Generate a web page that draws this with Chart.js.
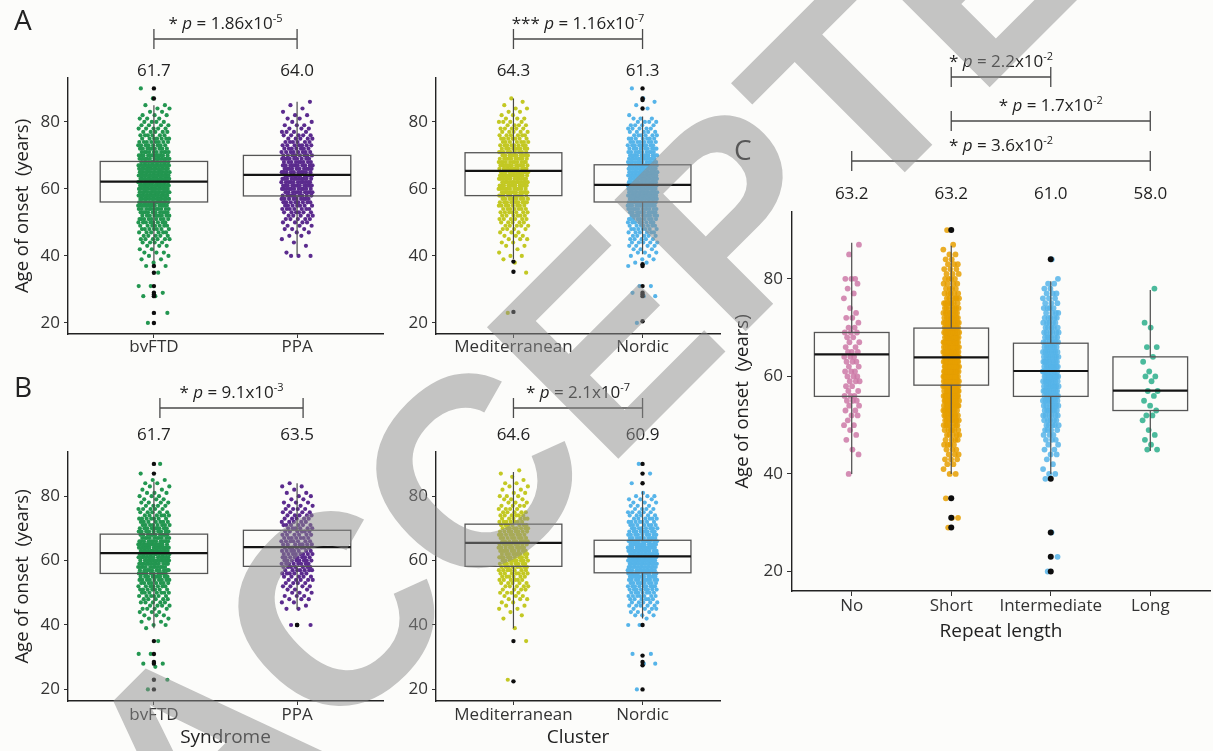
<!DOCTYPE html>
<html>
<head>
<meta charset="utf-8">
<script src="https://cdn.jsdelivr.net/npm/chart.js@4.4.1/dist/chart.umd.min.js"></script>
<style>
  html, body { margin: 0; padding: 0; background: #fcfcfa; }
  #wrap { position: relative; width: 1213px; height: 751px; overflow: hidden; background: #fcfcfa; }
  #wrap canvas { position: absolute; left: 0; top: 0; }
  #wm { pointer-events: none; }
</style>
</head>
<body>
<div id="wrap">
  <canvas id="cA1" width="1213" height="751"></canvas>
  <canvas id="cA2" width="1213" height="751"></canvas>
  <canvas id="cB1" width="1213" height="751"></canvas>
  <canvas id="cB2" width="1213" height="751"></canvas>
  <canvas id="cC" width="1213" height="751"></canvas>
  <canvas id="wm" width="1213" height="751"></canvas>
</div>
<script>
// ------------------------------------------------------------------
// DATA  (counts of patients per year of age at onset, ages 20..90)
// ------------------------------------------------------------------
const AGE_START = 20;
const yTicksAB = [20, 40, 60, 80];
const yTicksC = [20, 40, 60, 80];

// ---------- Panel A (left): Syndrome ----------
const syndromeCats = ['bvFTD', 'PPA'];
const A_bvFTD_counts = [
  1,0,0,1,0,0,0,0,2,1,
  0,2,0,0,0,1,0,2,1,2,
  2,3,2,3,4,6,5,6,7,7,
  8,9,9,10,11,12,13,14,14,15,
  16,15,17,15,16,15,14,14,12,12,
  11,10,9,8,8,7,6,5,5,4,
  4,3,3,2,2,2,0,1,0,0,
  1];
const A_PPA_counts = [
  0,0,0,0,0,0,0,0,0,0,
  0,0,0,0,0,0,0,0,0,0,
  3,1,0,1,1,1,2,2,3,3,
  4,5,5,6,7,7,8,9,9,10,
  11,11,11,11,11,10,10,10,9,9,
  8,8,7,7,6,5,5,4,3,3,
  2,2,2,1,1,1,1,0,0,0,
  0];
const A_syn_q1 = [56.1, 57.9];
const A_syn_median = [62.2, 64.2];
const A_syn_q3 = [68.2, 70.0];
const A_syn_whiskerLow = [38.5, 40.3];
const A_syn_whiskerHigh = [85.0, 86.0];
const A_syn_outliers = [[20, 23, 28, 28.5, 29, 31, 35, 37, 87, 90], []];
const A_syn_means = ['61.7', '64.0'];
const A_syn_p = ['*', '1.86', '-5'];

// ---------- Panel A (right): Cluster ----------
const clusterCats = ['Mediterranean', 'Nordic'];
const A_Med_counts = [
  0,0,0,1,0,0,0,0,0,0,
  0,0,0,0,0,1,0,0,1,1,
  2,1,1,2,2,3,3,3,4,5,
  5,6,6,7,7,8,9,9,10,11,
  11,11,12,12,12,12,11,11,11,10,
  10,9,9,8,7,7,6,5,5,4,
  4,3,2,2,2,1,1,1,0,0,
  0];
const A_Nordic_counts = [
  1,0,0,0,0,0,0,0,2,1,
  0,2,0,0,0,0,0,1,2,2,
  2,3,3,4,5,5,5,6,7,7,
  8,9,10,10,11,12,13,14,14,15,
  16,16,15,15,14,14,14,13,12,12,
  11,10,9,9,8,7,6,5,5,4,
  4,3,1,0,1,1,1,1,0,0,
  1];
const A_clu_q1 = [58.0, 56.1];
const A_clu_median = [65.4, 61.2];
const A_clu_q3 = [70.8, 67.2];
const A_clu_whiskerLow = [39.0, 40.5];
const A_clu_whiskerHigh = [87.0, 81.6];
const A_clu_outliers = [[23.3, 35.3, 38.3], [20.5, 28, 28.5, 29, 31, 37, 37.5, 84, 86.5, 87, 90]];
const A_clu_means = ['64.3', '61.3'];
const A_clu_p = ['***', '1.16', '-7'];

// ---------- Panel B (left): Syndrome ----------
const B_bvFTD_counts = [
  1,0,0,1,0,0,0,1,2,0,
  0,2,0,0,0,1,0,0,0,1,
  2,2,2,3,3,4,4,5,5,6,
  7,7,7,8,9,9,10,10,11,12,
  12,12,13,12,12,12,11,10,10,9,
  9,8,7,7,6,5,5,4,4,3,
  3,3,2,2,2,2,0,1,0,0,
  1];
const B_PPA_counts = [
  0,0,0,0,0,0,0,0,0,0,
  0,0,0,0,0,0,0,0,0,0,
  2,0,0,0,0,2,1,2,3,3,
  3,3,4,4,5,5,6,7,7,8,
  8,8,8,7,7,7,7,7,6,6,
  6,6,5,5,5,4,4,3,3,2,
  2,2,1,2,1,0,0,0,0,0,
  0];
const B_syn_q1 = [56.0, 58.2];
const B_syn_median = [62.3, 64.2];
const B_syn_q3 = [68.2, 69.4];
const B_syn_whiskerLow = [39.0, 45.0];
const B_syn_whiskerHigh = [84.5, 84.0];
const B_syn_outliers = [[20, 23, 28, 28.5, 31, 35, 87, 90], [40, 40]];
const B_syn_means = ['61.7', '63.5'];
const B_syn_p = ['*', '9.1', '-3'];

// ---------- Panel B (right): Cluster ----------
const B_Med_counts = [
  0,0,0,1,0,0,0,0,0,0,
  0,0,0,0,0,1,0,0,0,1,
  0,0,1,1,1,2,2,2,3,3,
  4,4,5,5,6,6,7,7,8,8,
  9,9,9,9,9,9,9,8,8,8,
  8,7,7,6,6,5,4,4,3,3,
  3,2,2,2,2,1,1,1,1,0,
  0];
const B_Nordic_counts = [
  1,0,0,0,0,0,0,0,2,0,
  0,2,0,0,0,0,0,0,0,0,
  2,0,1,3,3,4,5,5,6,7,
  7,8,9,9,10,11,11,12,13,13,
  13,13,13,12,12,11,11,10,9,9,
  8,7,7,6,5,5,4,3,3,3,
  3,1,0,0,1,0,0,1,0,0,
  1];
const B_clu_q1 = [58.2, 56.2];
const B_clu_median = [65.5, 61.3];
const B_clu_q3 = [71.3, 66.3];
const B_clu_whiskerLow = [39.0, 42.0];
const B_clu_whiskerHigh = [87.5, 81.5];
const B_clu_outliers = [[22.5, 35], [20, 27.5, 28.5, 30.5, 40, 84, 87, 90]];
const B_clu_means = ['64.6', '60.9'];
const B_clu_p = ['*', '2.1', '-7'];

// ---------- Panel C: Repeat length ----------
const repeatCats = ['No', 'Short', 'Intermediate', 'Long'];
const C_No_counts = [
  0,0,0,0,0,0,0,0,0,0,
  0,0,0,0,0,0,0,0,0,0,
  1,0,0,0,1,1,0,1,1,1,
  2,1,2,2,2,3,3,2,2,3,
  3,3,2,3,3,3,2,2,2,3,
  2,1,2,1,1,0,1,1,1,1,
  3,0,0,0,0,1,0,1,0,0,
  0];
const C_Short_counts = [
  0,0,0,0,0,0,0,0,0,1,
  0,2,0,0,0,1,0,0,0,0,
  2,1,2,3,3,3,4,4,5,6,
  7,8,8,9,10,11,11,12,12,13,
  13,13,14,13,13,12,12,12,11,11,
  10,10,9,8,7,7,6,5,4,4,
  4,3,3,3,2,2,1,1,0,0,
  1];
const C_Inter_counts = [
  1,0,0,1,0,0,0,0,1,0,
  0,0,0,0,0,0,0,0,0,1,
  2,1,1,1,2,2,2,3,3,4,
  5,5,6,7,7,8,8,9,9,9,
  10,9,9,9,8,8,7,7,6,6,
  5,5,5,4,4,3,3,3,2,2,
  1,0,0,0,1,0,0,0,0,0,
  0];
const C_Long_counts = [
  0,0,0,0,0,0,0,0,0,0,
  0,0,0,0,0,0,0,0,0,0,
  0,0,0,0,0,2,1,1,1,1,
  0,1,2,1,1,1,1,2,0,1,
  2,1,0,1,1,0,2,0,0,0,
  1,1,0,0,0,0,0,0,1,0,
  0,0,0,0,0,0,0,0,0,0,
  0];
const C_q1 = [55.9, 58.2, 55.9, 53.0];
const C_median = [64.5, 63.9, 61.1, 57.1];
const C_q3 = [69.0, 69.9, 66.8, 64.0];
const C_whiskerLow = [40.0, 40.0, 40.0, 44.7];
const C_whiskerHigh = [87.4, 86.8, 79.5, 77.7];
const C_outliers = [[], [29, 31, 35, 90], [20, 23, 28, 39, 84], []];
const C_means = ['63.2', '63.2', '61.0', '58.0'];
const C_p1 = ['*', '2.2', '-2'];
const C_p2 = ['*', '1.7', '-2'];
const C_p3 = ['*', '3.6', '-2'];

// ------------------------------------------------------------------
// RENDERING
// ------------------------------------------------------------------
Chart.defaults.font.family = '"Open Sans", "DejaVu Sans", sans-serif';
Chart.defaults.color = '#333';

const PHI = 0.6180339887;
function jitterPoints(counts, cat, halfW) {
  const pts = [];
  let n = 0;
  counts.forEach((c, k) => {
    for (let j = 0; j < c; j++) {
      const u = ((n + 0.5) * PHI) % 1;
      pts.push({ x: cat + (2 * u - 1) * halfW, y: AGE_START + k });
      n++;
    }
  });
  return pts;
}

function drawPLabel(ctx, cx, baseline, parts) {
  const segs = [
    { t: parts[0] + ' ', font: '17px "Open Sans"', dy: 0 },
    { t: 'p', font: 'italic 17px "Open Sans"', dy: 0 },
    { t: ' = ' + parts[1] + 'x10', font: '17px "Open Sans"', dy: 0 },
    { t: parts[2], font: '11px "Open Sans"', dy: -7 }
  ];
  let w = 0;
  segs.forEach(s => { ctx.font = s.font; s.w = ctx.measureText(s.t).width; w += s.w; });
  let x = cx - w / 2;
  ctx.textAlign = 'left';
  ctx.textBaseline = 'alphabetic';
  ctx.fillStyle = '#222';
  segs.forEach(s => { ctx.font = s.font; ctx.fillText(s.t, x, baseline + s.dy); x += s.w; });
}

function boxPlugin(cfg) {
  return {
    id: 'boxes',
    afterDatasetsDraw(chart) {
      const { ctx, scales: { x, y } } = chart;
      ctx.save();
      cfg.cats.forEach((c, i) => {
        const cx = x.getPixelForValue(i + 1);
        const half = x.getPixelForValue(i + 1 + 0.375) - cx;
        const pq1 = y.getPixelForValue(cfg.q1[i]);
        const pq3 = y.getPixelForValue(cfg.q3[i]);
        const pm = y.getPixelForValue(cfg.median[i]);
        const plo = y.getPixelForValue(cfg.wLow[i]);
        const phi = y.getPixelForValue(cfg.wHigh[i]);
        ctx.strokeStyle = '#4a4a4a';
        ctx.lineWidth = 1.2;
        ctx.beginPath();
        ctx.moveTo(cx, pq3); ctx.lineTo(cx, phi);
        ctx.moveTo(cx, pq1); ctx.lineTo(cx, plo);
        ctx.stroke();
        ctx.strokeStyle = '#555';
        ctx.lineWidth = 1.3;
        ctx.strokeRect(cx - half, pq3, 2 * half, pq1 - pq3);
        ctx.strokeStyle = '#141414';
        ctx.lineWidth = 2.2;
        ctx.beginPath();
        ctx.moveTo(cx - half, pm); ctx.lineTo(cx + half, pm);
        ctx.stroke();
      });
      ctx.restore();
    }
  };
}

function annotPlugin(cfg) {
  return {
    id: 'annot',
    afterDraw(chart) {
      const { ctx, scales: { x } } = chart;
      ctx.save();
      ctx.font = '17px "Open Sans"';
      ctx.fillStyle = '#222';
      ctx.textAlign = 'center';
      ctx.textBaseline = 'alphabetic';
      cfg.means.forEach((m, i) => {
        ctx.fillText(m, x.getPixelForValue(i + 1), cfg.meanY);
      });
      cfg.brackets.forEach(b => {
        const x1 = x.getPixelForValue(b.a + 1) + (b.dx || 0);
        const x2 = x.getPixelForValue(b.b + 1) + (b.dx || 0);
        ctx.strokeStyle = '#4a4a4a';
        ctx.lineWidth = 1.3;
        ctx.beginPath();
        ctx.moveTo(x1, b.y - 10); ctx.lineTo(x1, b.y + 10);
        ctx.moveTo(x1, b.y); ctx.lineTo(x2, b.y);
        ctx.moveTo(x2, b.y - 10); ctx.lineTo(x2, b.y + 10);
        ctx.stroke();
        drawPLabel(ctx, (x1 + x2) / 2, b.y - 10, b.p);
      });
      if (cfg.letter) {
        ctx.font = '28px "Open Sans"';
        ctx.fillStyle = '#222';
        ctx.textAlign = 'left';
        ctx.fillText(cfg.letter.t, cfg.letter.x, cfg.letter.y);
      }
      ctx.restore();
    }
  };
}

function makePanel(cfg) {
  const datasets = cfg.groups.map((counts, ci) => ({
    type: 'scatter',
    data: jitterPoints(counts, ci + 1, cfg.jitter),
    backgroundColor: cfg.colors[ci],
    pointRadius: cfg.r,
    pointBorderWidth: 0,
    pointHoverRadius: 0,
    order: 2
  }));
  datasets.push({
    type: 'scatter',
    data: cfg.outliers.flatMap((arr, ci) => arr.map(v => ({ x: ci + 1, y: v }))),
    backgroundColor: '#0d0d0d',
    pointRadius: cfg.rOut,
    pointBorderWidth: 0,
    pointHoverRadius: 0,
    order: 1
  });
  const tickGrid = { display: true, drawOnChartArea: false, drawTicks: true, tickLength: cfg.tickLen || 4, color: '#333', lineWidth: 1 };
  new Chart(document.getElementById(cfg.id), {
    type: 'scatter',
    data: { datasets },
    options: {
      responsive: false,
      animation: false,
      events: [],
      layout: { padding: cfg.padding },
      plugins: { legend: { display: false }, tooltip: { enabled: false }, title: { display: false } },
      scales: {
        x: {
          type: 'linear',
          min: 0.4,
          max: cfg.cats.length + 0.6,
          afterBuildTicks: s => { s.ticks = cfg.cats.map((c, i) => ({ value: i + 1 })); },
          afterFit: s => { s.height = cfg.xAxisH; },
          ticks: { callback: v => cfg.cats[Math.round(v) - 1], font: { size: 17 }, color: '#333', padding: cfg.xTickPad, autoSkip: false, maxRotation: 0, minRotation: 0 },
          grid: tickGrid,
          border: { display: true, color: '#222', width: 1.4 },
          title: cfg.xTitle ? { display: true, text: cfg.xTitle, font: { size: 19 }, color: '#222', padding: { top: 0, bottom: cfg.xTitlePad } } : { display: false }
        },
        y: {
          type: 'linear',
          min: cfg.yMin,
          max: cfg.yMax,
          afterBuildTicks: s => { s.ticks = cfg.yTicks.map(v => ({ value: v })); },
          afterFit: s => { s.width = cfg.yAxisW; },
          ticks: { font: { size: 17 }, color: '#333', padding: 4 },
          grid: tickGrid,
          border: { display: true, color: '#222', width: 1.4 },
          title: cfg.yTitle ? { display: true, text: cfg.yTitle, font: { size: 18.5 }, color: '#222', padding: { top: cfg.yTitlePad, bottom: 0 } } : { display: false }
        }
      }
    },
    plugins: [boxPlugin(cfg), annotPlugin(cfg)]
  });
}

const colGreen = '#239650', colPurple = '#5b2b8e', colYellow = '#c3c823', colBlue = '#56b4e9';
const yTitleText = 'Age of onset  (years)';

makePanel({
  id: 'cA1', cats: syndromeCats, groups: [A_bvFTD_counts, A_PPA_counts], colors: [colGreen, colPurple],
  q1: A_syn_q1, median: A_syn_median, q3: A_syn_q3, wLow: A_syn_whiskerLow, wHigh: A_syn_whiskerHigh,
  outliers: A_syn_outliers, means: A_syn_means, meanY: 76,
  brackets: [{ a: 0, b: 1, y: 39, p: A_syn_p }],
  letter: { t: 'A', x: 14, y: 30 },
  padding: { left: 0, top: 78, right: 830, bottom: 387 }, xAxisH: 30, yAxisW: 68, xTickPad: -1,
  yMin: 16.7, yMax: 93.1, yTicks: yTicksAB, yTitle: yTitleText, yTitlePad: 11.9,
  jitter: 0.11, r: 2.1, rOut: 2.2
});
makePanel({
  id: 'cA2', cats: clusterCats, groups: [A_Med_counts, A_Nordic_counts], colors: [colYellow, colBlue],
  q1: A_clu_q1, median: A_clu_median, q3: A_clu_q3, wLow: A_clu_whiskerLow, wHigh: A_clu_whiskerHigh,
  outliers: A_clu_outliers, means: A_clu_means, meanY: 76,
  brackets: [{ a: 0, b: 1, y: 39, p: A_clu_p }],
  padding: { left: 390, top: 78, right: 493, bottom: 387 }, xAxisH: 30, yAxisW: 46, xTickPad: -1,
  yMin: 16.7, yMax: 93.1, yTicks: yTicksAB,
  jitter: 0.115, r: 2.1, rOut: 2.2
});
makePanel({
  id: 'cB1', cats: syndromeCats, groups: [B_bvFTD_counts, B_PPA_counts], colors: [colGreen, colPurple],
  q1: B_syn_q1, median: B_syn_median, q3: B_syn_q3, wLow: B_syn_whiskerLow, wHigh: B_syn_whiskerHigh,
  outliers: B_syn_outliers, means: B_syn_means, meanY: 440,
  brackets: [{ a: 0, b: 1, y: 408, p: B_syn_p, dx: 6 }],
  letter: { t: 'B', x: 14, y: 397 },
  padding: { left: 0, top: 452, right: 830, bottom: 0 }, xAxisH: 50, yAxisW: 68, xTickPad: 0,
  xTitle: 'Syndrome', xTitlePad: 1.6,
  yMin: 16.4, yMax: 93.7, yTicks: yTicksAB, yTitle: yTitleText, yTitlePad: 11.9,
  jitter: 0.11, r: 2.1, rOut: 2.2
});
makePanel({
  id: 'cB2', cats: clusterCats, groups: [B_Med_counts, B_Nordic_counts], colors: [colYellow, colBlue],
  q1: B_clu_q1, median: B_clu_median, q3: B_clu_q3, wLow: B_clu_whiskerLow, wHigh: B_clu_whiskerHigh,
  outliers: B_clu_outliers, means: B_clu_means, meanY: 440,
  brackets: [{ a: 0, b: 1, y: 408, p: B_clu_p }],
  padding: { left: 390, top: 452, right: 493, bottom: 0 }, xAxisH: 50, yAxisW: 46, xTickPad: 0,
  xTitle: 'Cluster', xTitlePad: 1.6,
  yMin: 16.4, yMax: 93.7, yTicks: yTicksAB,
  jitter: 0.115, r: 2.1, rOut: 2.2
});
makePanel({
  id: 'cC', cats: repeatCats, groups: [C_No_counts, C_Short_counts, C_Inter_counts, C_Long_counts],
  colors: ['rgba(204,121,167,0.85)', 'rgba(230,159,0,0.85)', 'rgba(86,180,233,0.85)', 'rgba(0,158,115,0.7)'],
  q1: C_q1, median: C_median, q3: C_q3, wLow: C_whiskerLow, wHigh: C_whiskerHigh,
  outliers: C_outliers, means: C_means, meanY: 199,
  brackets: [{ a: 1, b: 2, y: 77, p: C_p1 }, { a: 1, b: 3, y: 121, p: C_p2 }, { a: 0, b: 3, y: 161, p: C_p3 }],
  letter: { t: 'C', x: 734, y: 160 },
  padding: { left: 725, top: 212, right: 1, bottom: 0 }, xAxisH: 160, yAxisW: 67, xTickPad: 0, tickLen: 5,
  xTitle: 'Repeat length', xTitlePad: 107.6,
  yMin: 16.0, yMax: 93.7, yTicks: yTicksC, yTitle: yTitleText, yTitlePad: 6.9,
  jitter: 0.08, r: 2.9, rOut: 3
});

// watermark
(function () {
  const wm = document.getElementById('wm').getContext('2d');
  wm.save();
  wm.translate(717, 360);
  wm.rotate(-Math.PI / 4);
  wm.font = 'bold 270px "Liberation Sans"';
  wm.fillStyle = 'rgba(140,140,140,0.5)';
  wm.textAlign = 'center';
  wm.textBaseline = 'alphabetic';
  wm.fillText('ACCEPTED', 0, 0);
  wm.restore();
})();
</script>
</body>
</html>
